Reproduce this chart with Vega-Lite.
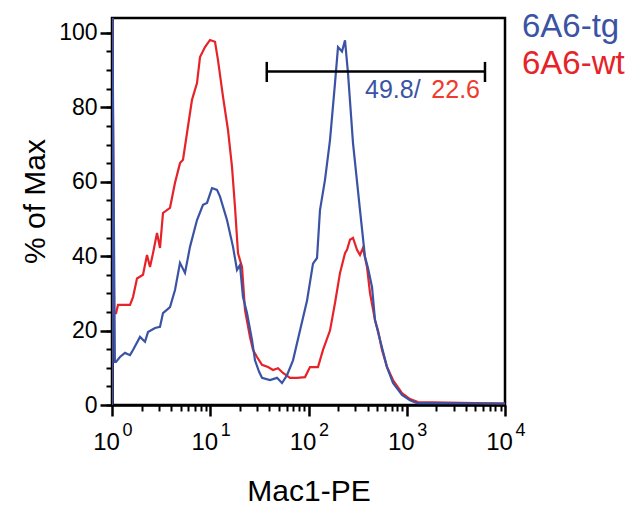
{
  "$schema": "https://vega.github.io/schema/vega-lite/v6.json",
  "width": 393,
  "height": 387,
  "autosize": {"type": "none"},
  "padding": {"left": 112, "top": 18, "right": 131, "bottom": 104},
  "background": "white",
  "config": {
    "view": {"stroke": "black", "strokeWidth": 2.5},
    "font": "Liberation Sans",
    "axis": {"domainColor": "black", "tickColor": "black", "labelColor": "black", "titleColor": "black", "labelFont": "Liberation Sans", "titleFont": "Liberation Sans", "titleFontWeight": "normal", "grid": false, "labelFlush": false, "labelOverlap": false, "labelBound": false}
  },
  "datasets": {
    "curves": [
      {"series": "6A6-wt", "mfi": 1.0, "pct": 0},
      {"series": "6A6-wt", "mfi": 1.01, "pct": 104},
      {"series": "6A6-wt", "mfi": 1.05, "pct": 24.7},
      {"series": "6A6-wt", "mfi": 1.1, "pct": 24.7},
      {"series": "6A6-wt", "mfi": 1.151, "pct": 26.9},
      {"series": "6A6-wt", "mfi": 1.525, "pct": 26.9},
      {"series": "6A6-wt", "mfi": 1.636, "pct": 29.0},
      {"series": "6A6-wt", "mfi": 1.797, "pct": 34.0},
      {"series": "6A6-wt", "mfi": 2.068, "pct": 35.0},
      {"series": "6A6-wt", "mfi": 2.271, "pct": 40.3},
      {"series": "6A6-wt", "mfi": 2.437, "pct": 37.1},
      {"series": "6A6-wt", "mfi": 2.615, "pct": 40.8},
      {"series": "6A6-wt", "mfi": 2.871, "pct": 46.2},
      {"series": "6A6-wt", "mfi": 3.08, "pct": 42.2},
      {"series": "6A6-wt", "mfi": 3.304, "pct": 51.6},
      {"series": "6A6-wt", "mfi": 3.894, "pct": 53.0},
      {"series": "6A6-wt", "mfi": 4.378, "pct": 59.7},
      {"series": "6A6-wt", "mfi": 4.922, "pct": 65.0},
      {"series": "6A6-wt", "mfi": 5.281, "pct": 65.9},
      {"series": "6A6-wt", "mfi": 5.799, "pct": 73.1},
      {"series": "6A6-wt", "mfi": 6.519, "pct": 82.0},
      {"series": "6A6-wt", "mfi": 7.331, "pct": 86.5},
      {"series": "6A6-wt", "mfi": 7.865, "pct": 93.5},
      {"series": "6A6-wt", "mfi": 8.844, "pct": 96.2},
      {"series": "6A6-wt", "mfi": 9.943, "pct": 98.1},
      {"series": "6A6-wt", "mfi": 11.18, "pct": 97.6},
      {"series": "6A6-wt", "mfi": 11.99, "pct": 92.7},
      {"series": "6A6-wt", "mfi": 13.49, "pct": 82.8},
      {"series": "6A6-wt", "mfi": 15.16, "pct": 73.9},
      {"series": "6A6-wt", "mfi": 16.65, "pct": 64.0},
      {"series": "6A6-wt", "mfi": 17.86, "pct": 53.2},
      {"series": "6A6-wt", "mfi": 19.16, "pct": 40.8},
      {"series": "6A6-wt", "mfi": 21.05, "pct": 37.1},
      {"series": "6A6-wt", "mfi": 22.58, "pct": 25.5},
      {"series": "6A6-wt", "mfi": 25.38, "pct": 18.3},
      {"series": "6A6-wt", "mfi": 27.23, "pct": 14.8},
      {"series": "6A6-wt", "mfi": 29.91, "pct": 12.9},
      {"series": "6A6-wt", "mfi": 33.63, "pct": 10.8},
      {"series": "6A6-wt", "mfi": 38.7, "pct": 10.2},
      {"series": "6A6-wt", "mfi": 43.53, "pct": 9.4},
      {"series": "6A6-wt", "mfi": 48.94, "pct": 9.9},
      {"series": "6A6-wt", "mfi": 55.02, "pct": 8.6},
      {"series": "6A6-wt", "mfi": 64.8, "pct": 7.3},
      {"series": "6A6-wt", "mfi": 76.38, "pct": 7.3},
      {"series": "6A6-wt", "mfi": 92.14, "pct": 7.5},
      {"series": "6A6-wt", "mfi": 103.6, "pct": 10.2},
      {"series": "6A6-wt", "mfi": 124.9, "pct": 10.2},
      {"series": "6A6-wt", "mfi": 140.5, "pct": 14.8},
      {"series": "6A6-wt", "mfi": 165.5, "pct": 20.0},
      {"series": "6A6-wt", "mfi": 186.1, "pct": 27.4},
      {"series": "6A6-wt", "mfi": 209.3, "pct": 35.5},
      {"series": "6A6-wt", "mfi": 235.3, "pct": 40.8},
      {"series": "6A6-wt", "mfi": 246.6, "pct": 41.7},
      {"series": "6A6-wt", "mfi": 264.5, "pct": 44.4},
      {"series": "6A6-wt", "mfi": 283.8, "pct": 44.9},
      {"series": "6A6-wt", "mfi": 311.6, "pct": 41.7},
      {"series": "6A6-wt", "mfi": 334.3, "pct": 40.3},
      {"series": "6A6-wt", "mfi": 358.6, "pct": 42.2},
      {"series": "6A6-wt", "mfi": 393.9, "pct": 37.1},
      {"series": "6A6-wt", "mfi": 422.7, "pct": 30.1},
      {"series": "6A6-wt", "mfi": 475.3, "pct": 22.8},
      {"series": "6A6-wt", "mfi": 509.9, "pct": 20.0},
      {"series": "6A6-wt", "mfi": 560.0, "pct": 14.8},
      {"series": "6A6-wt", "mfi": 629.5, "pct": 10.2},
      {"series": "6A6-wt", "mfi": 724.4, "pct": 6.7},
      {"series": "6A6-wt", "mfi": 894.6, "pct": 3.2},
      {"series": "6A6-wt", "mfi": 1079, "pct": 1.6},
      {"series": "6A6-wt", "mfi": 1302, "pct": 0.8},
      {"series": "6A6-wt", "mfi": 10000, "pct": 0.4},
      {"series": "6A6-tg", "mfi": 1.0, "pct": 0},
      {"series": "6A6-tg", "mfi": 1.01, "pct": 104},
      {"series": "6A6-tg", "mfi": 1.07, "pct": 11.6},
      {"series": "6A6-tg", "mfi": 1.098, "pct": 11.6},
      {"series": "6A6-tg", "mfi": 1.206, "pct": 12.9},
      {"series": "6A6-tg", "mfi": 1.356, "pct": 14.0},
      {"series": "6A6-tg", "mfi": 1.525, "pct": 13.4},
      {"series": "6A6-tg", "mfi": 1.636, "pct": 14.8},
      {"series": "6A6-tg", "mfi": 1.928, "pct": 18.3},
      {"series": "6A6-tg", "mfi": 2.167, "pct": 17.0},
      {"series": "6A6-tg", "mfi": 2.325, "pct": 19.6},
      {"series": "6A6-tg", "mfi": 2.74, "pct": 20.7},
      {"series": "6A6-tg", "mfi": 3.08, "pct": 21.0},
      {"series": "6A6-tg", "mfi": 3.304, "pct": 24.7},
      {"series": "6A6-tg", "mfi": 3.894, "pct": 26.3},
      {"series": "6A6-tg", "mfi": 4.378, "pct": 30.9},
      {"series": "6A6-tg", "mfi": 4.922, "pct": 38.2},
      {"series": "6A6-tg", "mfi": 5.534, "pct": 35.5},
      {"series": "6A6-tg", "mfi": 6.221, "pct": 42.5},
      {"series": "6A6-tg", "mfi": 7.331, "pct": 49.7},
      {"series": "6A6-tg", "mfi": 8.437, "pct": 53.8},
      {"series": "6A6-tg", "mfi": 9.268, "pct": 54.3},
      {"series": "6A6-tg", "mfi": 10.42, "pct": 58.3},
      {"series": "6A6-tg", "mfi": 11.71, "pct": 57.8},
      {"series": "6A6-tg", "mfi": 12.57, "pct": 56.0},
      {"series": "6A6-tg", "mfi": 14.81, "pct": 49.7},
      {"series": "6A6-tg", "mfi": 17.05, "pct": 42.5},
      {"series": "6A6-tg", "mfi": 18.72, "pct": 36.3},
      {"series": "6A6-tg", "mfi": 20.08, "pct": 37.6},
      {"series": "6A6-tg", "mfi": 21.54, "pct": 29.0},
      {"series": "6A6-tg", "mfi": 23.66, "pct": 24.7},
      {"series": "6A6-tg", "mfi": 26.6, "pct": 17.5},
      {"series": "6A6-tg", "mfi": 28.54, "pct": 12.0},
      {"series": "6A6-tg", "mfi": 31.35, "pct": 9.0},
      {"series": "6A6-tg", "mfi": 33.63, "pct": 7.3},
      {"series": "6A6-tg", "mfi": 40.56, "pct": 6.7},
      {"series": "6A6-tg", "mfi": 47.8, "pct": 7.3},
      {"series": "6A6-tg", "mfi": 53.75, "pct": 5.9},
      {"series": "6A6-tg", "mfi": 60.41, "pct": 8.0},
      {"series": "6A6-tg", "mfi": 69.55, "pct": 12.0},
      {"series": "6A6-tg", "mfi": 81.94, "pct": 20.0},
      {"series": "6A6-tg", "mfi": 96.54, "pct": 28.0},
      {"series": "6A6-tg", "mfi": 111.1, "pct": 38.0},
      {"series": "6A6-tg", "mfi": 122.1, "pct": 39.5},
      {"series": "6A6-tg", "mfi": 130.9, "pct": 52.4},
      {"series": "6A6-tg", "mfi": 147.2, "pct": 60.5},
      {"series": "6A6-tg", "mfi": 165.5, "pct": 71.2},
      {"series": "6A6-tg", "mfi": 186.1, "pct": 86.5},
      {"series": "6A6-tg", "mfi": 199.7, "pct": 96.2},
      {"series": "6A6-tg", "mfi": 219.3, "pct": 95.0},
      {"series": "6A6-tg", "mfi": 235.3, "pct": 98.0},
      {"series": "6A6-tg", "mfi": 252.4, "pct": 89.2},
      {"series": "6A6-tg", "mfi": 283.8, "pct": 70.4},
      {"series": "6A6-tg", "mfi": 334.3, "pct": 52.4},
      {"series": "6A6-tg", "mfi": 375.8, "pct": 39.8},
      {"series": "6A6-tg", "mfi": 403.2, "pct": 36.8},
      {"series": "6A6-tg", "mfi": 443.0, "pct": 31.7},
      {"series": "6A6-tg", "mfi": 475.3, "pct": 22.8},
      {"series": "6A6-tg", "mfi": 534.3, "pct": 17.5},
      {"series": "6A6-tg", "mfi": 629.5, "pct": 10.2},
      {"series": "6A6-tg", "mfi": 724.4, "pct": 5.9},
      {"series": "6A6-tg", "mfi": 894.6, "pct": 2.7},
      {"series": "6A6-tg", "mfi": 1079, "pct": 1.3},
      {"series": "6A6-tg", "mfi": 1272, "pct": 0.5},
      {"series": "6A6-tg", "mfi": 10000, "pct": 0.4}
    ],
    "gate": [{"mfi": 37.6, "mfi2": 6257, "pct": 89.6}],
    "caps": [
      {"mfi": 37.6, "pct": 86.8, "pct2": 92.2},
      {"mfi": 6257, "pct": 86.8, "pct2": 92.2}
    ],
    "labels": [
      {"part": "tg", "text": "49.8/", "mfi": 376, "pct": 82.4},
      {"part": "wt", "text": "22.6", "mfi": 5570, "pct": 82.4}
    ]
  },
  "resolve": {"axis": {"x": "independent", "y": "independent"}},
  "layer": [
    {
      "data": {"name": "curves"},
      "transform": [{"filter": "datum.series == '6A6-wt'"}],
      "mark": {"type": "line", "strokeWidth": 2.2, "clip": true},
      "encoding": {
        "x": {
          "field": "mfi", "type": "quantitative",
          "scale": {"type": "log", "domain": [1, 10000], "nice": false},
          "axis": {"orient": "bottom", "values": [1, 10, 100, 1000, 10000], "labelExpr": "'10'", "labelFontSize": 24, "labelOffset": -6, "labelPadding": 14, "tickSize": 11, "tickWidth": 2.5, "domainWidth": 2.5, "title": "Mac1-PE", "titleFontSize": 30, "titlePadding": 22}
        },
        "y": {
          "field": "pct", "type": "quantitative",
          "scale": {"domain": [0, 104], "nice": false},
          "axis": {"orient": "left", "values": [0, 20, 40, 60, 80, 100], "labelFontSize": 23, "labelPadding": 3, "tickSize": 12, "tickWidth": 2.5, "domainWidth": 2.5, "title": "% of Max", "titleFontSize": 30, "titlePadding": 8, "titleY": 183}
        },
        "color": {
          "field": "series", "type": "nominal",
          "scale": {"domain": ["6A6-tg", "6A6-wt"], "range": ["#3A53A4", "#E62328"]},
          "legend": {"orient": "none", "legendX": 377, "legendY": -8, "title": null, "symbolSize": 0, "symbolStrokeWidth": 0, "symbolOpacity": 0, "labelOffset": 0, "labelFontSize": 33, "labelFont": "Liberation Sans", "rowPadding": 3, "padding": 0, "labelLimit": 200,
            "encode": {"labels": {"update": {"fill": {"scale": "color", "field": "value"}}}}}
        }
      }
    },
    {
      "data": {"name": "curves"},
      "transform": [{"filter": "datum.series == '6A6-tg'"}],
      "mark": {"type": "line", "strokeWidth": 2.2, "clip": true},
      "encoding": {
        "x": {
          "field": "mfi", "type": "quantitative",
          "scale": {"type": "log", "domain": [1, 10000], "nice": false},
          "axis": {"orient": "bottom", "values": [1, 10, 100, 1000, 10000], "labelExpr": "'' + round(log(datum.value) / LN10)", "labelFontSize": 18, "labelOffset": 15, "labelPadding": 16, "ticks": false, "tickSize": 0, "domain": false, "title": null}
        },
        "y": {
          "field": "pct", "type": "quantitative",
          "scale": {"domain": [0, 104], "nice": false},
          "axis": {"orient": "left", "values": [0, 5, 10, 15, 20, 25, 30, 35, 40, 45, 50, 55, 60, 65, 70, 75, 80, 85, 90, 95, 100], "labels": false, "tickSize": 6, "tickWidth": 2, "domain": false, "title": null}
        },
        "color": {"field": "series", "type": "nominal"}
      }
    },
    {
      "data": {"name": "gate"},
      "mark": {"type": "rule", "strokeWidth": 2.5, "color": "black"},
      "encoding": {
        "x": {
          "field": "mfi", "type": "quantitative",
          "axis": {"orient": "bottom", "values": [2, 3, 4, 5, 6, 7, 8, 9, 20, 30, 40, 50, 60, 70, 80, 90, 200, 300, 400, 500, 600, 700, 800, 900, 2000, 3000, 4000, 5000, 6000, 7000, 8000, 9000], "labels": false, "tickSize": 6, "tickWidth": 2, "domain": false, "title": null}
        },
        "x2": {"field": "mfi2"},
        "y": {"field": "pct", "type": "quantitative", "axis": null}
      }
    },
    {
      "data": {"name": "caps"},
      "mark": {"type": "rule", "strokeWidth": 2.5, "color": "black"},
      "encoding": {
        "x": {"field": "mfi", "type": "quantitative", "axis": null},
        "y": {"field": "pct", "type": "quantitative", "axis": null},
        "y2": {"field": "pct2"}
      }
    },
    {
      "data": {"name": "labels"},
      "transform": [{"filter": "datum.part == 'tg'"}],
      "mark": {"type": "text", "align": "left", "baseline": "alphabetic", "fontSize": 25, "font": "Liberation Sans", "color": "#3A53A4"},
      "encoding": {
        "x": {"field": "mfi", "type": "quantitative", "axis": null},
        "y": {"field": "pct", "type": "quantitative", "axis": null},
        "text": {"field": "text"}
      }
    },
    {
      "data": {"name": "labels"},
      "transform": [{"filter": "datum.part == 'wt'"}],
      "mark": {"type": "text", "align": "right", "baseline": "alphabetic", "fontSize": 25, "font": "Liberation Sans", "color": "#EE3B2B"},
      "encoding": {
        "x": {"field": "mfi", "type": "quantitative", "axis": null},
        "y": {"field": "pct", "type": "quantitative", "axis": null},
        "text": {"field": "text"}
      }
    }
  ]
}
